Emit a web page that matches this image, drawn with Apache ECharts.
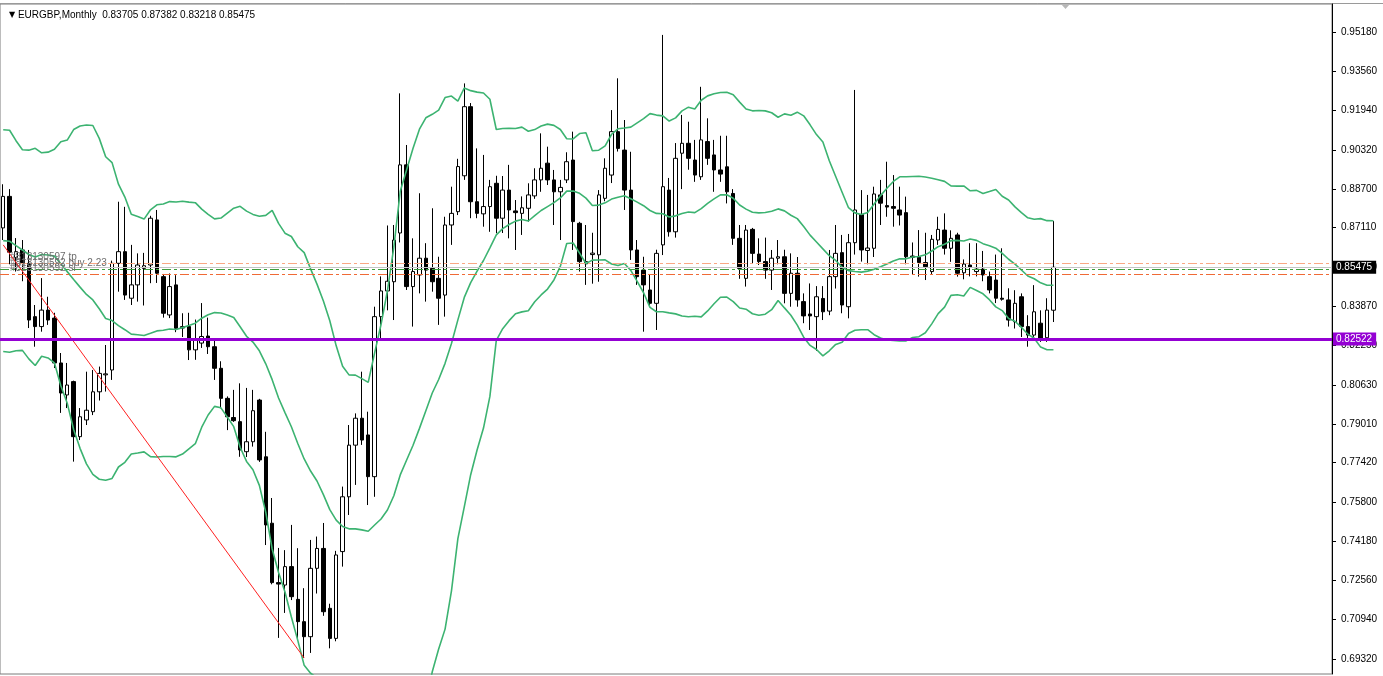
<!DOCTYPE html>
<html><head><meta charset="utf-8">
<script src="https://cdn.jsdelivr.net/npm/echarts@6/dist/echarts.min.js"></script>
<style>html,body{margin:0;padding:0;background:#fff;overflow:hidden}#c{width:1383px;height:676px}</style>
</head><body><div id="c"></div><script>
// ---- DATA (monthly EURGBP, [open, high, low, close]) ----
const symbolName = 'EURGBP,Monthly';
const firstMonth = [2011, 8];
// closes of the 19 months before the first visible bar (needed by the 20-period bands)
const closesBeforeChart = [0.8660,0.8980,0.8920,0.8700,0.8500,0.8180,0.8370,0.8240,0.8660,0.8710,0.8500,0.8560,0.8560,0.8490,0.8840,0.8910,0.8730,0.9030,0.8770];
const y2011 = [[0.8710,0.8890,0.8660,0.8840],[0.8840,0.8870,0.8560,0.8610],[0.8588,0.8668,0.8530,0.8612],[0.8619,0.8660,0.8490,0.8564],[0.8564,0.8619,0.8297,0.8330]];
const y2012 = [[0.8344,0.8392,0.8220,0.8303],[0.8303,0.8503,0.8282,0.8371],[0.8371,0.8426,0.8310,0.8330],[0.8338,0.8360,0.8132,0.8153],[0.8153,0.8194,0.7947,0.8029],[0.8021,0.8153,0.7967,0.8062],[0.8076,0.8080,0.7746,0.7849],[0.7849,0.7967,0.7835,0.7931],[0.7918,0.8117,0.7897,0.7958],[0.7952,0.8124,0.7938,0.8034],[0.8034,0.8138,0.7998,0.8110],[0.8104,0.8227,0.8035,0.8108]];
const y2013 = [[0.8124,0.8575,0.8083,0.8564],[0.8564,0.8818,0.8447,0.8612],[0.8612,0.8797,0.8413,0.8433],[0.8420,0.8640,0.8392,0.8475],[0.8475,0.8605,0.8406,0.8557],[0.8543,0.8607,0.8390,0.8554],[0.8557,0.8760,0.8482,0.8750],[0.8743,0.8784,0.8483,0.8523],[0.8509,0.8520,0.8340,0.8358],[0.8351,0.8522,0.8338,0.8468],[0.8475,0.8515,0.8280,0.8296],[0.8297,0.8358,0.8260,0.8303]];
const y2014 = [[0.8303,0.8360,0.8165,0.8207],[0.8207,0.8332,0.8166,0.8248],[0.8235,0.8400,0.8215,0.8262],[0.8264,0.8340,0.8190,0.8220],[0.8220,0.8248,0.8083,0.8131],[0.8131,0.8160,0.7966,0.8007],[0.8007,0.8015,0.7876,0.7931],[0.7928,0.8042,0.7910,0.7915],[0.7911,0.8069,0.7766,0.7794],[0.7787,0.8050,0.7765,0.7828],[0.7828,0.8042,0.7808,0.7956],[0.8000,0.8005,0.7745,0.7753]];
const y2015 = [[0.7766,0.7869,0.7402,0.7485],[0.7492,0.7596,0.7240,0.7247],[0.7247,0.7390,0.7019,0.7241],[0.7237,0.7381,0.7122,0.7313],[0.7313,0.7485,0.7175,0.7189],[0.7178,0.7389,0.7019,0.7086],[0.7086,0.7224,0.6936,0.7024],[0.7024,0.7423,0.6957,0.7306],[0.7306,0.7437,0.7202,0.7388],[0.7388,0.7493,0.7110,0.7127],[0.7141,0.7160,0.6976,0.7017],[0.7017,0.7378,0.7005,0.7361]];
const y2016 = [[0.7375,0.7643,0.7313,0.7601],[0.7601,0.7897,0.7526,0.7814],[0.7814,0.7945,0.7650,0.7925],[0.7925,0.8117,0.7815,0.7835],[0.7856,0.7952,0.7567,0.7684],[0.7684,0.8385,0.7601,0.8344],[0.8344,0.8510,0.8255,0.8450],[0.8450,0.8720,0.8370,0.8490],[0.8488,0.8722,0.8330,0.8660],[0.8689,0.9265,0.8650,0.8970],[0.8970,0.9052,0.8454,0.8468],[0.8468,0.8667,0.8303,0.8530]];
const y2017 = [[0.8516,0.8853,0.8440,0.8585],[0.8585,0.8647,0.8406,0.8536],[0.8543,0.8791,0.8447,0.8488],[0.8502,0.8591,0.8310,0.8420],[0.8433,0.8756,0.8344,0.8722],[0.8722,0.8880,0.8640,0.8770],[0.8777,0.8995,0.8763,0.8963],[0.8925,0.9306,0.8908,0.9210],[0.9210,0.9225,0.8750,0.8818],[0.8818,0.9038,0.8750,0.8770],[0.8768,0.9011,0.8715,0.8798],[0.8798,0.8908,0.8694,0.8880]];
const y2018 = [[0.8894,0.8925,0.8688,0.8750],[0.8750,0.8924,0.8689,0.8866],[0.8866,0.8970,0.8667,0.8784],[0.8780,0.8825,0.8619,0.8773],[0.8770,0.8840,0.8681,0.8793],[0.8791,0.8894,0.8736,0.8846],[0.8842,0.8956,0.8830,0.8908],[0.8908,0.9100,0.8859,0.8956],[0.8977,0.9045,0.8887,0.8908],[0.8908,0.8949,0.8722,0.8859],[0.8859,0.8908,0.8660,0.8877],[0.8908,0.9022,0.8895,0.8983]];
const y2019 = [[0.8990,0.9107,0.8619,0.8736],[0.8729,0.8735,0.8530,0.8571],[0.8562,0.8722,0.8475,0.8571],[0.8600,0.8690,0.8480,0.8606],[0.8599,0.8866,0.8488,0.8846],[0.8832,0.8997,0.8820,0.8956],[0.8928,0.9196,0.8895,0.9107],[0.9107,0.9327,0.9025,0.9038],[0.9031,0.9155,0.8784,0.8866],[0.8866,0.9024,0.8578,0.8619],[0.8619,0.8660,0.8475,0.8509],[0.8536,0.8591,0.8282,0.8475]];
const y2020 = [[0.8454,0.8520,0.8390,0.8399],[0.8399,0.8620,0.8289,0.8605],[0.8640,0.9506,0.8598,0.8880],[0.8866,0.8916,0.8674,0.8694],[0.8694,0.9060,0.8670,0.8997],[0.9018,0.9176,0.8870,0.9059],[0.9059,0.9148,0.8950,0.8997],[0.8990,0.9073,0.8900,0.8928],[0.8921,0.9292,0.8908,0.9073],[0.9066,0.9162,0.8970,0.8997],[0.9011,0.9073,0.8859,0.8949],[0.8949,0.9090,0.8900,0.8932]];
const y2021 = [[0.8962,0.9090,0.8811,0.8859],[0.8852,0.8870,0.8640,0.8667],[0.8667,0.8722,0.8500,0.8543],[0.8502,0.8722,0.8468,0.8701],[0.8704,0.8710,0.8564,0.8605],[0.8602,0.8667,0.8557,0.8571],[0.8571,0.8670,0.8500,0.8536],[0.8536,0.8619,0.8454,0.8585],[0.8585,0.8660,0.8560,0.8591],[0.8591,0.8620,0.8399,0.8440],[0.8440,0.8605,0.8385,0.8523],[0.8523,0.8590,0.8385,0.8413]];
const y2022 = [[0.8406,0.8440,0.8317,0.8347],[0.8355,0.8481,0.8289,0.8347],[0.8344,0.8470,0.8203,0.8426],[0.8419,0.8470,0.8330,0.8364],[0.8367,0.8619,0.8350,0.8509],[0.8509,0.8722,0.8460,0.8605],[0.8608,0.8681,0.8358,0.8392],[0.8385,0.8685,0.8337,0.8649],[0.8649,0.9279,0.8600,0.8784],[0.8765,0.8866,0.8571,0.8619],[0.8617,0.8846,0.8560,0.8627],[0.8626,0.8880,0.8590,0.8850]];
const y2023 = [[0.8846,0.8908,0.8722,0.8812],[0.8802,0.8983,0.8756,0.8796],[0.8798,0.8928,0.8715,0.8791],[0.8784,0.8880,0.8720,0.8763],[0.8773,0.8839,0.8560,0.8591],[0.8594,0.8650,0.8516,0.8589],[0.8589,0.8701,0.8509,0.8567],[0.8567,0.8690,0.8495,0.8550],[0.8530,0.8681,0.8520,0.8663],[0.8660,0.8756,0.8640,0.8704],[0.8701,0.8770,0.8600,0.8626],[0.8626,0.8700,0.8570,0.8667]];
const y2024 = [[0.8681,0.8690,0.8509,0.8523],[0.8525,0.8580,0.8498,0.8561],[0.8557,0.8647,0.8510,0.8547],[0.8530,0.8647,0.8510,0.8540],[0.8540,0.8615,0.8490,0.8516],[0.8509,0.8530,0.8440,0.8454],[0.8495,0.8600,0.8400,0.8420],[0.8420,0.8626,0.8410,0.8416],[0.8413,0.8461,0.8303,0.8330],[0.8323,0.8453,0.8295,0.8399],[0.8426,0.8440,0.8260,0.8303],[0.8303,0.8350,0.8220,0.8268]];
const y2025 = [[0.8268,0.8474,0.8250,0.8364],[0.8317,0.8370,0.8240,0.8248],[0.8257,0.8420,0.8240,0.8371],[0.83705,0.87382,0.83218,0.85475]];
const futureSlots = 43;
const yTickLabels = [0.95180,0.93560,0.91940,0.90320,0.88700,0.87110,0.85490,0.83870,0.82250,0.80630,0.79010,0.77420,0.75800,0.74180,0.72560,0.70940,0.69320];
const yRange = [0.68701, 0.96335];
const bandPeriod = 20, bandDeviation = 2;
const horizontalLevel = 0.82522;
const orders = [
  {name:'#813130597 tp', price:0.8564, color:'#f9a884'},
  {name:'#813130592 buy 2.23', price:0.8539, color:'#3d9e3d'},
  {name:'#813130592 sl', price:0.8520, color:'#f06a36'}
];
const trendFrom = {bar:0, price:0.8640};
const trendTo = {bar:47, price:0.6936};

// ---- BUILD ----
const candles = [].concat(y2011,y2012,y2013,y2014,y2015,y2016,y2017,y2018,y2019,y2020,y2021,y2022,y2023,y2024,y2025);
const slots = [];
for (let k = 0; k < candles.length + futureSlots; k++) {
  const m = firstMonth[1] - 1 + k;
  slots.push((firstMonth[0] + Math.floor(m / 12)) + '.' + String(m % 12 + 1).padStart(2, '0'));
}
const last = candles[candles.length - 1];
const bid = last[3];
const allCloses = closesBeforeChart.concat(candles.map(c => c[3]));
const mid = [], up = [], low = [];
for (let i = 0; i < candles.length; i++) {
  const w = allCloses.slice(i + closesBeforeChart.length - bandPeriod + 1, i + closesBeforeChart.length + 1);
  const mean = w.reduce((a, b) => a + b, 0) / w.length;
  const sd = Math.sqrt(w.reduce((a, b) => a + (b - mean) * (b - mean), 0) / w.length);
  mid.push(mean); up.push(mean + bandDeviation * sd); low.push(mean - bandDeviation * sd);
}
const FONT = 'Liberation Sans, Arial, sans-serif';
const bandStyle = {color:'#3cb371', width:1.6};
const bandSeries = (d) => ({type:'line', data:d, symbol:'none', silent:true, lineStyle:bandStyle, z:3, animation:false});

const chart = echarts.init(document.getElementById('c'), null, {renderer:'canvas'});
chart.setOption({
  animation:false,
  backgroundColor:'#ffffff',
  title:{
    text:'{t|▼} ' + symbolName + '  ' + last.map(v => v.toFixed(5)).join(' '),
    left:4, top:5,
    textStyle:{fontSize:10, fontWeight:'normal', color:'#000', fontFamily:FONT,
      rich:{t:{fontSize:8, color:'#000', fontFamily:'DejaVu Sans'}}}
  },
  grid:{left:0, right:51, top:4, bottom:2, show:true, borderColor:'#7a7a7a', borderWidth:1, containLabel:false},
  xAxis:{type:'category', data:slots, boundaryGap:true,
    axisLine:{show:false}, axisTick:{show:false}, axisLabel:{show:false}, splitLine:{show:false}},
  yAxis:{type:'value', position:'right', min:yRange[0], max:yRange[1], scale:true,
    splitLine:{show:false},
    axisLine:{show:true, lineStyle:{color:'#000', width:1}},
    axisTick:{show:true, length:4, inside:false, customValues:yTickLabels, lineStyle:{color:'#000'}},
    axisLabel:{customValues:yTickLabels, formatter:v => Number(v).toFixed(5), fontSize:10, color:'#000', fontFamily:FONT, margin:9}
  },
  series:[
    {type:'candlestick', data:candles.map(c => [c[0], c[3], c[2], c[1]]), barWidth:4, z:2,
      itemStyle:{color:'#ffffff', color0:'#000000', borderColor:'#000000', borderColor0:'#000000', borderWidth:1},
      markLine:{silent:true, symbol:'none', animation:false, precision:6, z:4,
        data:[
          ...orders.map(o => ({yAxis:o.price, lineStyle:{color:o.color, width:1, type:[9,3,3,3]},
            label:{show:true, position:'insideStartTop', distance:[10,1], formatter:o.name, color:'#6e6e6e', fontSize:10, fontFamily:FONT}})),
          {yAxis:bid, lineStyle:{color:'#c4c4c4', width:1, type:'solid'},
            label:{show:true, position:'end', distance:[1,0], formatter:bid.toFixed(5), color:'#fff', backgroundColor:'#000', padding:[2,4,1,3], fontSize:10, fontFamily:FONT}}
        ]}
    },
    bandSeries(up), bandSeries(mid), bandSeries(low),
    {type:'line', data:[[slots[trendFrom.bar], trendFrom.price],[slots[trendTo.bar], trendTo.price]], symbol:'none', silent:true,
      lineStyle:{color:'#ff2020', width:1}, z:4},
    {type:'line', data:[], silent:true, z:6,
      markLine:{silent:true, symbol:'none', animation:false, precision:6,
        data:[{yAxis:horizontalLevel, lineStyle:{color:'#9400d3', width:3, type:'solid'},
          label:{show:true, position:'end', distance:[1,0], formatter:horizontalLevel.toFixed(5), color:'#fff', backgroundColor:'#9400d3', padding:[2,4,1,3], fontSize:10, fontFamily:FONT}}]}}
  ],
  graphic:[
    {type:'line', shape:{x1:0, y1:3.5, x2:1383, y2:3.5}, style:{stroke:'#9a9a9a', lineWidth:1}, silent:true},
    {type:'polygon', shape:{points:[[1061,4],[1070,4],[1065.5,9]]}, style:{fill:'#b8b8b8'}, silent:true}
  ]
});
</script></body></html>
